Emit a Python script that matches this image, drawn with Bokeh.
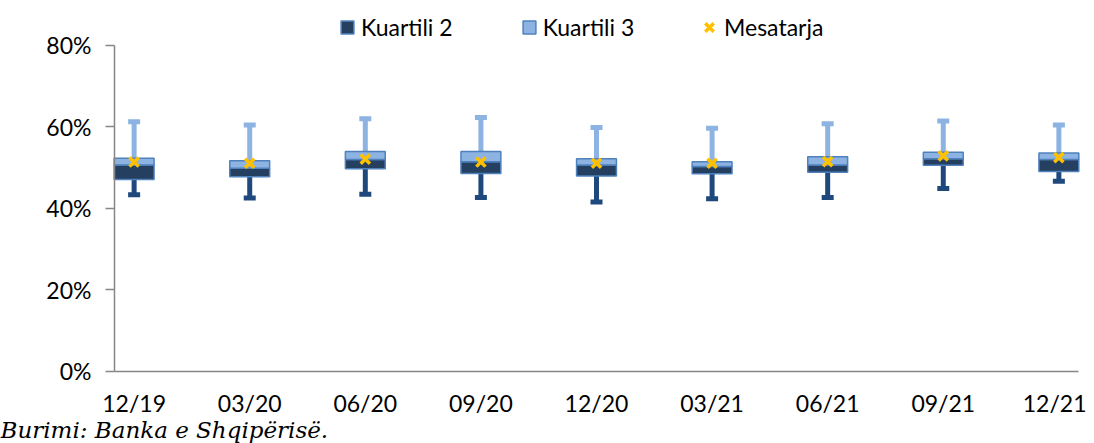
from bokeh.plotting import figure
from bokeh.models import Range1d, FixedTicker, Legend, LegendItem, Label, ColumnDataSource
from bokeh.embed import file_html
from bokeh.resources import INLINE

categories = ["12/19", "03/20", "06/20", "09/20", "12/20", "03/21", "06/21", "09/21", "12/21"]
minimum = [43.4, 42.6, 43.5, 42.7, 41.6, 42.4, 42.7, 44.9, 46.7]
q1 = [47.1, 47.8, 49.75, 48.6, 48.0, 48.5, 48.9, 50.6, 49.1]
median = [50.7, 49.9, 52.0, 51.5, 50.7, 50.3, 50.7, 52.2, 52.0]
q3 = [52.3, 51.7, 54.0, 54.0, 52.2, 51.5, 52.7, 53.8, 53.6]
maximum = [61.3, 60.5, 62.0, 62.3, 59.9, 59.7, 60.8, 61.5, 60.5]
mean = [51.4, 51.1, 52.1, 51.4, 51.1, 51.1, 51.5, 52.9, 52.5]
yticks = [0, 20, 40, 60, 80]
ytick_labels = ["0%", "20%", "40%", "60%", "80%"]

FONT = "Lato"
FS = "23px"
DARK = "#243F60"
LIGHT = "#8DB3E2"
BORDER = "#4F81BD"
LOWW = "#1F497D"
MEANC = "#FFC000"
AXC = "#868686"

W, H = 1086, 443
xs = list(range(len(categories)))
src = ColumnDataSource(dict(x=xs, mn=minimum, q1=q1, md=median, q3=q3, mx=maximum, mean=mean))

# frame covers the whole canvas; axes are pinned at x=-0.17 and y=0
p = figure(width=W, height=H, output_backend="svg", toolbar_location=None,
           x_range=Range1d(-1.156, 8.239), y_range=Range1d(-17.67, 91.04),
           min_border_left=0, min_border_right=0, min_border_top=0, min_border_bottom=0)
p.outline_line_color = None
p.grid.visible = False
p.background_fill_color = "white"

# whiskers
p.segment(x0="x", y0="q3", x1="x", y1="mx", source=src, line_color=LIGHT, line_width=5)
p.segment(x0="x", y0="mn", x1="x", y1="q1", source=src, line_color=LOWW, line_width=5)
p.rect(x="x", y="mx", width=12, height=5, width_units="screen", height_units="screen",
       source=src, fill_color=LIGHT, line_color=None)
p.rect(x="x", y="mn", width=12, height=5, width_units="screen", height_units="screen",
       source=src, fill_color=LOWW, line_color=None)

# boxes
r_dark = p.vbar(x="x", bottom="q1", top="md", width=0.345, source=src,
                fill_color=DARK, line_color=BORDER, line_width=1.5)
r_light = p.vbar(x="x", bottom="md", top="q3", width=0.345, source=src,
                 fill_color=LIGHT, line_color=BORDER, line_width=1.5)
r_mean = p.scatter(x="x", y="mean", source=src, marker="x", size=13,
                   line_color=MEANC, line_width=3.5)

# axes
p.yaxis.fixed_location = -0.17
p.yaxis.bounds = (0, 80)
p.yaxis.ticker = FixedTicker(ticks=yticks)
p.yaxis.major_label_overrides = {t: l for t, l in zip(yticks, ytick_labels)}
p.yaxis.axis_line_color = AXC
p.yaxis.axis_line_width = 1.5
p.yaxis.major_tick_line_color = AXC
p.yaxis.major_tick_line_width = 1.5
p.yaxis.major_tick_out = 9
p.yaxis.major_tick_in = 0
p.yaxis.minor_tick_line_color = None
p.yaxis.major_label_standoff = 14

p.xaxis.fixed_location = 0
p.xaxis.bounds = (-0.17, 8.17)
p.xaxis.ticker = FixedTicker(ticks=xs)
p.xaxis.major_label_overrides = {i: c for i, c in zip(xs, categories)}
p.xaxis.axis_line_color = AXC
p.xaxis.axis_line_width = 1.5
p.xaxis.major_tick_line_color = None
p.xaxis.minor_tick_line_color = None
p.xaxis.major_tick_out = 0
p.xaxis.major_tick_in = 0
p.xaxis.major_label_standoff = 18

for ax in (p.xaxis, p.yaxis):
    ax.major_label_text_font = FONT
    ax.major_label_text_font_size = FS
    ax.major_label_text_color = "black"

common = dict(orientation="horizontal", padding=0, margin=0, border_line_color=None,
              background_fill_alpha=0, label_text_font=FONT, label_text_font_size=FS,
              label_text_color="black")
legend1 = Legend(items=[LegendItem(label="Kuartili 2", renderers=[r_dark]),
                        LegendItem(label="Kuartili 3", renderers=[r_light])],
                 location=(339, 402), spacing=68, label_standoff=6,
                 glyph_width=16, glyph_height=16, **common)
legend2 = Legend(items=[LegendItem(label="Mesatarja", renderers=[r_mean])],
                 location=(694, 401), spacing=0, label_standoff=0,
                 glyph_width=30, glyph_height=30, **common)
p.add_layout(legend1)
p.add_layout(legend2)

footer = Label(x=0, y=14, x_units="screen", y_units="screen",
               text="Burimi: Banka e Shqipërisë.", text_font="DejaVu Serif",
               text_font_style="italic", text_font_size="23px", text_color="black",
               text_baseline="alphabetic")
p.add_layout(footer)

open("out.html", "w").write(file_html(p, INLINE))
